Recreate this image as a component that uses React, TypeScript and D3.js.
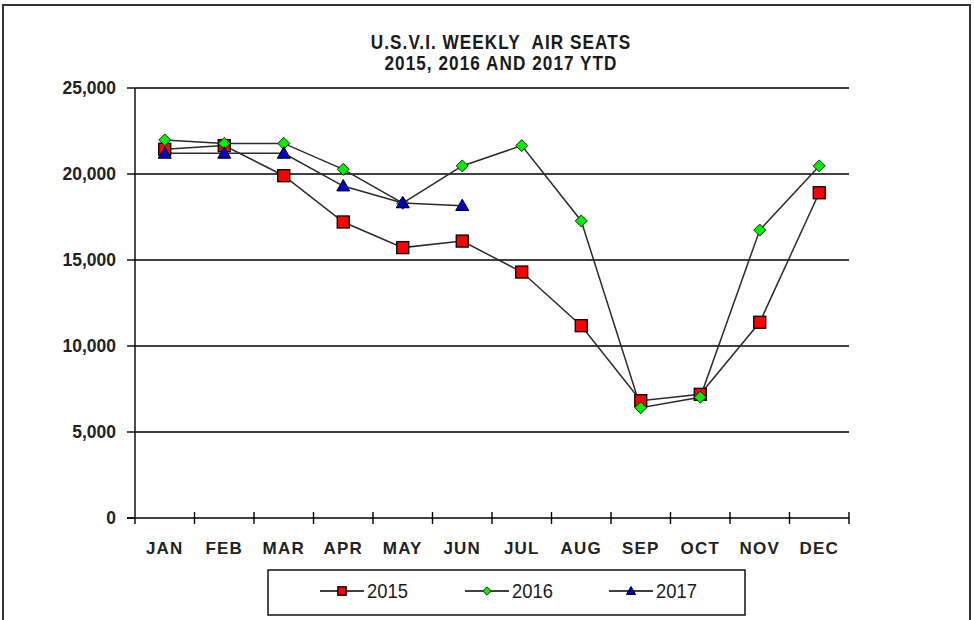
import React from "react";
import * as d3 from "d3";

const months = ["JAN", "FEB", "MAR", "APR", "MAY", "JUN", "JUL", "AUG", "SEP", "OCT", "NOV", "DEC"];
const s2015 = [21440, 21650, 19900, 17210, 15720, 16100, 14300, 11180, 6820, 7190, 11380, 18910];
const s2016 = [21980, 21780, 21780, 20270, 18300, 20470, 21650, 17270, 6410, 7020, 16740, 20470];
const s2017 = [21200, 21200, 21200, 19300, 18320, 18160];
const yTicks = [0, 5000, 10000, 15000, 20000, 25000];
const titleLines = ["U.S.V.I. WEEKLY  AIR SEATS", "2015, 2016 AND 2017 YTD"];
const seriesNames = ["2015", "2016", "2017"];

const W = 974, H = 620;
const L = 135, R = 849, T = 88, B = 518;
const sans = "'Liberation Sans', Arial, sans-serif";

function Marker({ kind, x, y, s = 1 }: { kind: string; x: number; y: number; s?: number }) {
  if (kind === "square") {
    const h = 6 * s;
    return <rect x={x - h} y={y - h} width={2 * h} height={2 * h} fill="#ff0000" stroke="#000" strokeWidth={1.3} />;
  }
  if (kind === "diamond") {
    const h = 6 * s;
    return <path d={`M${x},${y - h}L${x + h},${y}L${x},${y + h}L${x - h},${y}Z`} fill="#00ee00" stroke="#222" strokeWidth={1} />;
  }
  const h = 6.5 * s;
  return <path d={`M${x},${y - h}L${x + h},${y + h * 0.75}L${x - h},${y + h * 0.75}Z`} fill="#0000cc" stroke="#000" strokeWidth={1} />;
}

function Narrow({ x, y, size, bold, anchor, children, sx = 0.8, spacing = 0 }: any) {
  return (
    <g transform={`translate(${x},${y}) scale(${sx},1)`}>
      <text x={0} y={0} textAnchor={anchor} fontFamily={sans} fontWeight={bold ? "bold" : "normal"} fontSize={size}
        letterSpacing={spacing} fill="#1a1a1a" style={{ whiteSpace: "pre" }}>
        {children}
      </text>
    </g>
  );
}

export default function App() {
  const x = d3.scaleBand<string>().domain(months).range([L, R]);
  const y = d3.scaleLinear().domain([0, 25000]).range([B, T]);
  const line = d3.line<number>().x((_, i) => x(months[i])! + x.bandwidth() / 2).y((d) => y(d));
  const series = [
    { name: seriesNames[0], data: s2015, kind: "square" },
    { name: seriesNames[1], data: s2016, kind: "diamond" },
    { name: seriesNames[2], data: s2017, kind: "triangle" },
  ];
  const legendX = [342, 487, 631];
  return (
    <svg width={W} height={H} style={{ position: "absolute", left: 0, top: 0 }}>
      <rect x={0} y={0} width={W} height={H} fill="#fff" />
      <rect x={3} y={5} width={967} height={H} fill="none" stroke="#333" strokeWidth={2} />
      {titleLines.map((t, i) => (
        <Narrow key={i} x={501} y={49 + i * 21} size={19.5} bold anchor="middle" sx={0.88} spacing={1.2}>
          {t}
        </Narrow>
      ))}
      {yTicks.map((t) => (
        <g key={t}>
          {t > 0 && <line x1={L} x2={R} y1={y(t)} y2={y(t)} stroke="#000" strokeWidth={1.4} />}
          <line x1={L - 8} x2={L} y1={y(t)} y2={y(t)} stroke="#000" strokeWidth={1.4} />
          <text x={116} y={y(t) + 6} textAnchor="end" fontFamily={sans} fontWeight="bold" fontSize={17.5} fill="#222">
            {d3.format(",")(t)}
          </text>
        </g>
      ))}
      <line x1={L} x2={L} y1={T} y2={B + 6} stroke="#000" strokeWidth={1.4} />
      <line x1={L - 8} x2={R} y1={B} y2={B} stroke="#000" strokeWidth={1.4} />
      {months.map((m, i) => (
        <g key={m}>
          <line x1={x(m)! + x.bandwidth()} x2={x(m)! + x.bandwidth()} y1={B - 6} y2={B + 6} stroke="#000" strokeWidth={1.4} />
          <text x={x(m)! + x.bandwidth() / 2} y={554} textAnchor="middle" fontFamily={sans} fontWeight="bold" fontSize={17} letterSpacing={1.2} fill="#222">
            {m}
          </text>
        </g>
      ))}
      {series.map((s) => (
        <path key={s.name} d={line(s.data)!} fill="none" stroke="#2a2a2a" strokeWidth={1.5} />
      ))}
      {series.map((s) => (
        <g key={s.name + "m"}>
          {s.data.map((d, i) => (
            <Marker key={i} kind={s.kind} x={x(months[i])! + x.bandwidth() / 2} y={y(d)} />
          ))}
        </g>
      ))}
      <rect x={268} y={570} width={477} height={45} fill="#fff" stroke="#111" strokeWidth={1.5} />
      {series.map((s, i) => (
        <g key={s.name + "l"}>
          <line x1={legendX[i] - 22} x2={legendX[i] + 22} y1={591} y2={591} stroke="#000" strokeWidth={1.4} />
          <Marker kind={s.kind} x={legendX[i]} y={591} s={0.7} />
          <Narrow x={legendX[i] + 25} y={598} size={20} anchor="start" sx={0.92}>
            {s.name}
          </Narrow>
        </g>
      ))}
    </svg>
  );
}
